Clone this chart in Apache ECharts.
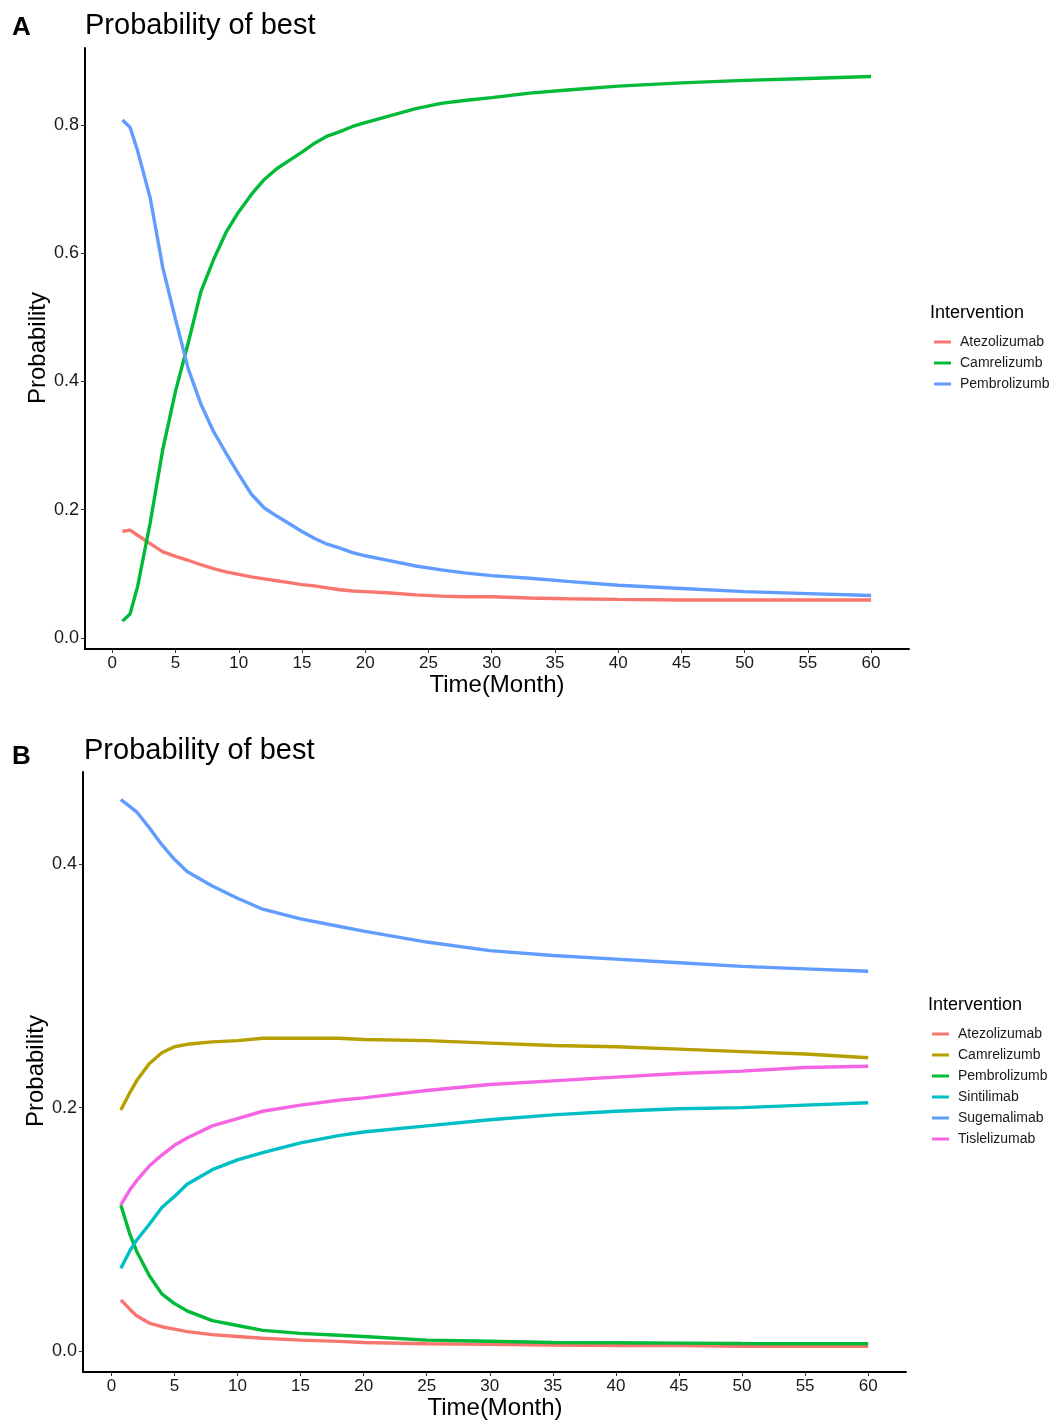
<!DOCTYPE html>
<html>
<head>
<meta charset="utf-8">
<script src="https://cdn.jsdelivr.net/npm/echarts@6/dist/echarts.min.js"></script>
<style>
html,body{margin:0;padding:0;background:#fff;}
#chart{width:1056px;height:1421px;}
</style>
</head>
<body>
<div id="chart"></div>
<script>
// ---------- Panel A data ----------
var timeA = [0.8, 1.4, 2, 3, 4, 5, 6, 7, 8, 9, 10, 11, 12, 13, 14, 15, 16, 17, 18, 19, 20, 22, 24, 26, 28, 30, 33, 36, 40, 45, 50, 55, 60];
var atezoA = [0.166,0.168,0.160,0.147,0.134,0.127,0.121,0.114,0.108,0.103,0.099,0.095,0.092,0.089,0.086,0.083,0.081,0.078,0.075,0.073,0.072,0.070,0.067,0.065,0.064,0.064,0.062,0.061,0.060,0.059,0.059,0.059,0.059];
var camreA = [0.026,0.037,0.080,0.180,0.295,0.385,0.460,0.540,0.590,0.633,0.665,0.692,0.715,0.732,0.745,0.758,0.772,0.783,0.790,0.798,0.804,0.815,0.826,0.834,0.839,0.843,0.850,0.855,0.861,0.866,0.870,0.873,0.876];
var pembroA = [0.808,0.797,0.760,0.686,0.577,0.497,0.420,0.365,0.322,0.288,0.255,0.224,0.203,0.190,0.178,0.166,0.155,0.146,0.140,0.133,0.128,0.120,0.112,0.106,0.101,0.097,0.093,0.088,0.082,0.077,0.072,0.069,0.066];

// ---------- Panel B data ----------
var timeB = [0.75, 1.5, 2, 3, 4, 5, 6, 8, 10, 12, 15, 18, 20, 25, 30, 35, 40, 45, 50, 55, 60];
var atezoB = [0.042,0.034,0.029,0.023,0.020,0.018,0.016,0.0135,0.012,0.0105,0.009,0.008,0.007,0.006,0.0055,0.005,0.0045,0.0045,0.004,0.004,0.004];
var camreB = [0.198,0.213,0.222,0.236,0.245,0.250,0.252,0.254,0.255,0.257,0.257,0.257,0.256,0.255,0.253,0.251,0.250,0.248,0.246,0.244,0.241];
var pembroB = [0.120,0.095,0.082,0.062,0.047,0.039,0.033,0.025,0.021,0.017,0.0145,0.013,0.012,0.009,0.008,0.007,0.0068,0.0065,0.0062,0.006,0.006];
var sintiB = [0.068,0.083,0.091,0.104,0.118,0.127,0.137,0.149,0.157,0.163,0.171,0.177,0.180,0.185,0.190,0.194,0.197,0.199,0.200,0.202,0.204];
var sugemB = [0.453,0.447,0.443,0.430,0.416,0.404,0.394,0.382,0.372,0.363,0.355,0.349,0.345,0.336,0.329,0.325,0.322,0.319,0.316,0.314,0.312];
var tisleB = [0.120,0.133,0.140,0.152,0.161,0.169,0.175,0.185,0.191,0.197,0.202,0.206,0.208,0.214,0.219,0.222,0.225,0.228,0.230,0.233,0.234];

// ---------- labels / ticks ----------
var namesA = ['Atezolizumab', 'Camrelizumb', 'Pembrolizumb'];
var namesB = ['Atezolizumab', 'Camrelizumb', 'Pembrolizumb', 'Sintilimab', 'Sugemalimab', 'Tislelizumab'];
var colorsA = ['#F8766D', '#00BA38', '#619CFF'];
var colorsB = ['#F8766D', '#B79F00', '#00BA38', '#00BFC4', '#619CFF', '#F564E3'];
var xTicks = [0, 5, 10, 15, 20, 25, 30, 35, 40, 45, 50, 55, 60];
var yTicksA = [0, 0.2, 0.4, 0.6, 0.8];
var yTicksB = [0, 0.2, 0.4];

var FONT = '"Liberation Sans", Arial, Helvetica, sans-serif';
var TXT = '#1a1a1a';

function zip(t, v) { return t.map(function (x, i) { return [x, v[i]]; }); }

function xAxisDef(grid, min, max) {
  return {
    type: 'value', gridIndex: grid, min: min, max: max,
    axisLine: { show: true, onZero: false, lineStyle: { color: '#000', width: 2 } },
    axisTick: { show: true, customValues: xTicks, length: 4, lineStyle: { color: '#333', width: 1 } },
    axisLabel: { customValues: xTicks, fontSize: 17, color: TXT, fontFamily: FONT, margin: 6,
      formatter: function (v) { return String(v); } },
    splitLine: { show: false }
  };
}
function yAxisDef(grid, min, max, ticks) {
  return {
    type: 'value', gridIndex: grid, min: min, max: max,
    axisLine: { show: true, onZero: false, lineStyle: { color: '#000', width: 2 } },
    axisTick: { show: true, customValues: ticks, length: 4, lineStyle: { color: '#333', width: 1 } },
    axisLabel: { customValues: ticks, fontSize: 18, color: TXT, fontFamily: FONT, margin: 6,
      formatter: function (v) { return v.toFixed(1); } },
    splitLine: { show: false }
  };
}

var series = [];
var dataA = [atezoA, camreA, pembroA];
namesA.forEach(function (n, i) {
  series.push({ name: n, type: 'line', xAxisIndex: 0, yAxisIndex: 0, data: zip(timeA, dataA[i]),
    showSymbol: false, symbol: 'none', lineStyle: { color: colorsA[i], width: 3.4 }, itemStyle: { color: colorsA[i] },
    silent: true, animation: false });
});
var dataB = [atezoB, camreB, pembroB, sintiB, sugemB, tisleB];
namesB.forEach(function (n, i) {
  series.push({ name: n, type: 'line', xAxisIndex: 1, yAxisIndex: 1, data: zip(timeB, dataB[i]),
    showSymbol: false, symbol: 'none', lineStyle: { color: colorsB[i], width: 3.4 }, itemStyle: { color: colorsB[i] },
    silent: true, animation: false });
});

function legendDef(names, colors, left, top) {
  return {
    left: left, top: top, orient: 'vertical', selectedMode: false,
    icon: 'rect', itemWidth: 17, itemHeight: 3, itemGap: 7,
    textStyle: { fontSize: 14, color: TXT, fontFamily: FONT, lineHeight: 14, padding: [0, 0, 0, 4] },
    data: names.map(function (n, i) { return { name: n, itemStyle: { color: colors[i] }, lineStyle: { color: colors[i] } }; })
  };
}

function txt(x, y, s, size, opts) {
  opts = opts || {};
  return {
    type: 'text', x: x, y: y, rotation: opts.rot || 0,
    style: { text: s, fontSize: size, fontFamily: FONT, fill: opts.fill || '#000',
      fontWeight: opts.bold ? 'bold' : 'normal',
      align: opts.align || 'left', verticalAlign: 'middle' }
  };
}

var option = {
  backgroundColor: '#fff',
  animation: false,
  grid: [
    { left: 85, top: 48, width: 824, height: 601 },
    { left: 83, top: 772, width: 823, height: 600 }
  ],
  xAxis: [ xAxisDef(0, -2.16, 63.0), xAxisDef(1, -2.25, 63.0) ],
  yAxis: [ yAxisDef(0, -0.0175, 0.9205, yTicksA), yAxisDef(1, -0.0172, 0.4757, yTicksB) ],
  legend: [ legendDef(namesA, colorsA, 929, 330), legendDef(namesB, colorsB, 927, 1022) ],
  series: series,
  graphic: [
    txt(12, 28, 'A', 26, { bold: true }),
    txt(85, 26, 'Probability of best', 29),
    txt(38, 348, 'Probability', 24, { rot: Math.PI / 2, align: 'center' }),
    txt(497, 685, 'Time(Month)', 24, { align: 'center' }),
    txt(930, 313, 'Intervention', 18),
    txt(12, 757, 'B', 26, { bold: true }),
    txt(84, 751, 'Probability of best', 29),
    txt(36, 1071, 'Probability', 24, { rot: Math.PI / 2, align: 'center' }),
    txt(495, 1408, 'Time(Month)', 24, { align: 'center' }),
    txt(928, 1005, 'Intervention', 18)
  ]
};

var chart = echarts.init(document.getElementById('chart'), null, { renderer: 'canvas' });
chart.setOption(option);
</script>
</body>
</html>
